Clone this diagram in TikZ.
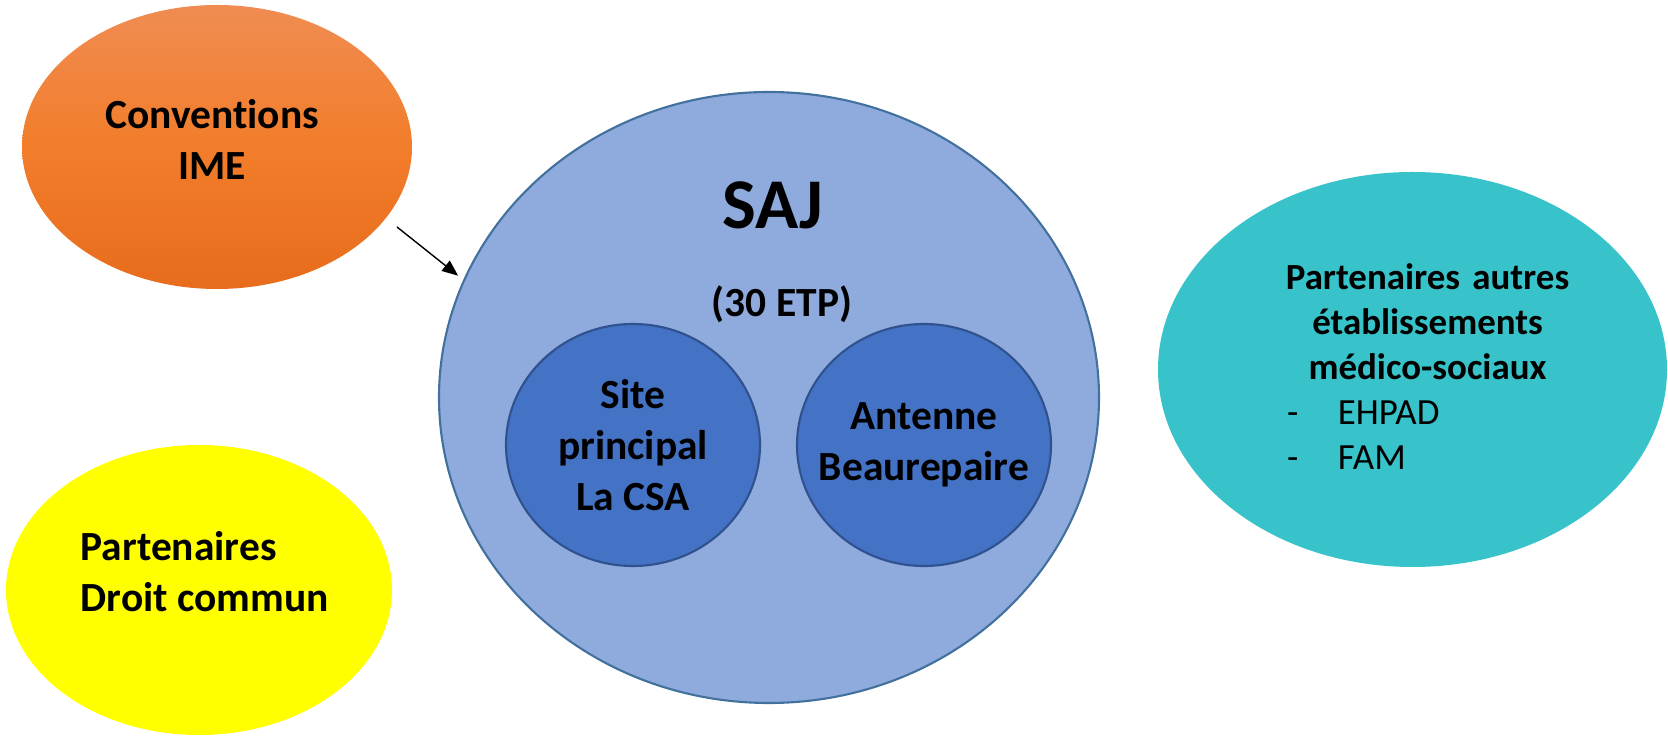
\documentclass[tikz,border=0pt]{standalone}
\usepackage{fontspec}
\setmainfont{Carlito}[Ligatures=NoCommon]
\usetikzlibrary{shapes.geometric,arrows.meta}
\definecolor{convtop}{RGB}{240,140,82}
\definecolor{convmid}{RGB}{242,125,42}
\definecolor{convbot}{RGB}{231,108,28}
\definecolor{yelfill}{RGB}{255,255,0}
\definecolor{sajfill}{RGB}{143,170,220}
\definecolor{sajline}{RGB}{65,113,156}
\definecolor{sitefill}{RGB}{68,114,196}
\definecolor{siteline}{RGB}{47,82,143}
\definecolor{tealfill}{RGB}{55,195,201}
\begin{document}
\begin{tikzpicture}[
  bubble/.style={ellipse,inner sep=0pt,outer sep=0pt},
  lbl/.style={font=\fontsize{11.8}{14.6}\selectfont\bfseries,align=center,inner sep=0pt},
  arr/.style={-{Triangle[length=0.16cm,width=0.13cm]},line width=0.4pt}
]
\useasboundingbox (0,0) rectangle (16.68,7.36);

% Conventions IME
\node[bubble,minimum width=3.90cm,minimum height=2.84cm,top color=convtop,bottom color=convbot,middle color=convmid] (conv) at (2.17,5.89) {};
\node[lbl] (convtxt) at (2.12,5.965) {Conventions\\IME};

% Partenaires droit commun
\node[bubble,fill=yelfill,minimum width=3.86cm,minimum height=2.90cm] (dc) at (1.99,1.46) {};
\node[lbl,align=left,anchor=west] (dctxt) at (0.80,1.645) {Partenaires\\Droit commun};

% SAJ
\node[bubble,draw=sajline,fill=sajfill,line width=0.6pt,minimum width=6.60cm,minimum height=6.11cm] (saj) at (7.69,3.385) {};
\node[font=\fontsize{20.3}{24}\selectfont\bfseries,anchor=base,inner sep=0pt] (sajtxt) at (7.73,5.07) {SAJ};
\node[lbl,anchor=base] (etp) at (7.82,4.19) {(30 ETP)};

% Sites
\node[bubble,draw=siteline,fill=sitefill,line width=0.6pt,minimum width=2.54cm,minimum height=2.42cm] (site) at (6.33,2.91) {};
\node[lbl] (sitetxt) at (site) {Site\\principal\\La CSA};
\node[bubble,draw=siteline,fill=sitefill,line width=0.6pt,minimum width=2.54cm,minimum height=2.42cm] (ant) at (9.24,2.91) {};
\node[lbl] (anttxt) at (ant) {Antenne\\Beaurepaire};

% Partenaires medico-sociaux
\node[bubble,fill=tealfill,minimum width=5.09cm,minimum height=3.95cm] (med) at (14.125,3.665) {};
\node[font=\fontsize{10.5}{12.8}\selectfont,text width=3.2cm,inner sep=0pt] (medtxt) at (14.275,3.69) {%
{\centering\bfseries Partenaires autres\\établissements\\médico-sociaux\par}
\hspace*{0.195cm}\makebox[0.51cm][l]{-}EHPAD\\
\hspace*{0.195cm}\makebox[0.51cm][l]{-}FAM};

% Arrow
\coordinate (arrS) at (3.97,5.09);
\draw[arr,shorten >=2.2pt] (arrS) -- (saj.159);
\end{tikzpicture}
\end{document}
